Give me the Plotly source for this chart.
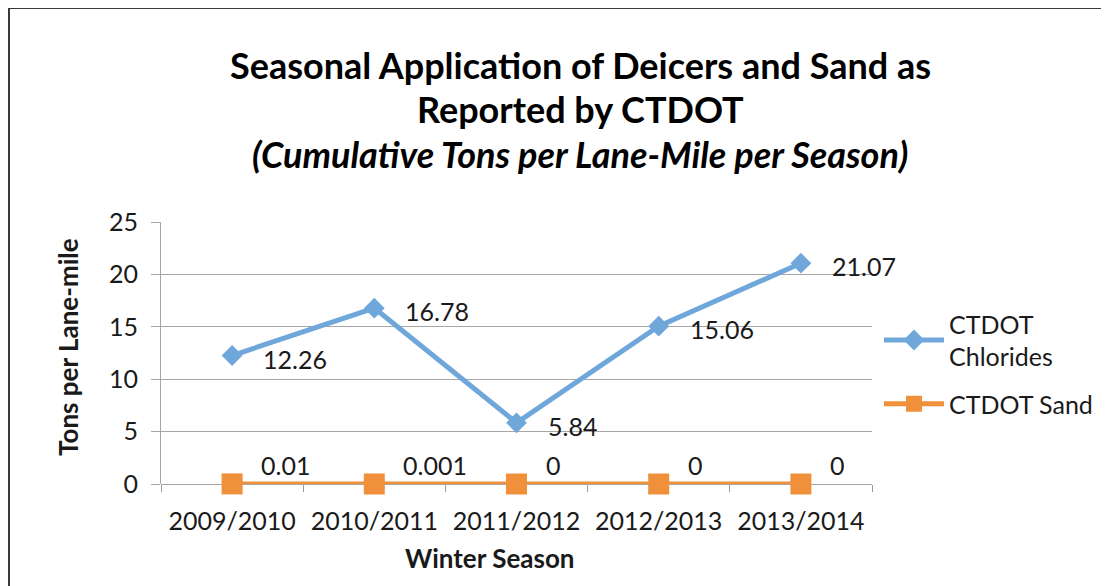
import plotly.graph_objects as go

seasons = ["2009/2010", "2010/2011", "2011/2012", "2012/2013", "2013/2014"]
chlorides = [12.26, 16.78, 5.84, 15.06, 21.07]
sand = [0.01, 0.001, 0, 0, 0]
chloride_labels = ["12.26", "16.78", "5.84", "15.06", "21.07"]
sand_labels = ["0.01", "0.001", "0", "0", "0"]
yticks = [0, 5, 10, 15, 20, 25]
title_lines = ["<b>Seasonal Application of Deicers and Sand as</b>",
               "<b>Reported by CTDOT</b>",
               "<b><i>(Cumulative Tons per Lane-Mile per Season)</i></b>"]

BLUE = "#70A7DB"
ORANGE = "#F0903B"
FONT = "Lato"
TXT = "#1a1a1a"

OFF = 8  # page body offset
W, H = 1109, 586
L, T = 161 - OFF, 222 - OFF
pw, ph = 872 - 161, 484 - 222
R = W - L - pw
B = H - T - ph

def px_x(p):
    return (p - OFF - L) / pw

def px_y(p):
    return (T + ph - (p - OFF)) / ph

fig = go.Figure()
fig.add_trace(go.Scatter(
    x=seasons, y=chlorides, name="CTDOT<br>Chlorides", mode="lines+markers",
    legendgroup="chlorides",
    line=dict(color=BLUE, width=5), cliponaxis=False,
    marker=dict(symbol="diamond", size=16, color=BLUE),
))
fig.add_trace(go.Scatter(
    x=seasons, y=sand, name="CTDOT Sand", mode="lines+markers",
    legendgroup="sand",
    line=dict(color=ORANGE, width=5), cliponaxis=False,
    marker=dict(symbol="square", size=21, color=ORANGE),
))

annotations = []
for s, v, t in zip(seasons, chlorides, chloride_labels):
    annotations.append(dict(x=s, y=v, text=t, showarrow=False, xanchor="left",
                            yanchor="middle", xshift=29, yshift=-3,
                            font=dict(family=FONT, size=25, color=TXT)))
for s, v, t in zip(seasons, sand, sand_labels):
    annotations.append(dict(x=s, y=v, text=t, showarrow=False, xanchor="left",
                            yanchor="middle", xshift=27, yshift=19,
                            font=dict(family=FONT, size=25, color=TXT)))
for i, (line, base) in enumerate(zip(title_lines, [77, 121, 166])):
    annotations.append(dict(x=px_x(580), y=px_y(base - 12), xref="paper", yref="paper",
                            text=line, showarrow=False, xanchor="center",
                            yanchor="middle",
                            font=dict(family=FONT, size=36, color="black")))
annotations.append(dict(x=px_x(490), y=px_y(558), xref="paper", yref="paper",
                        text="<b>Winter Season</b>", showarrow=False,
                        xanchor="center", yanchor="middle",
                        font=dict(family=FONT, size=26, color=TXT)))
annotations.append(dict(x=px_x(68), y=px_y(347), xref="paper", yref="paper",
                        text="<b>Tons per Lane-mile</b>", showarrow=False,
                        textangle=-90, xanchor="center", yanchor="middle",
                        font=dict(family=FONT, size=26, color=TXT)))

fig.update_layout(
    width=W, height=H,
    margin=dict(l=L, r=R, t=T, b=B),
    paper_bgcolor="white", plot_bgcolor="white",
    font=dict(family=FONT, size=25, color=TXT),
    showlegend=True,
    xaxis=dict(
        type="category", categoryorder="array", categoryarray=seasons,
        range=[-0.5, 4.5], showgrid=False, showline=False, zeroline=False,
        ticks="outside", tickson="boundaries", ticklen=7, tickcolor="#999999",
        ticklabelstandoff=20,
        tickfont=dict(family=FONT, size=25, color=TXT),
    ),
    yaxis=dict(
        range=[0, 25], tickvals=yticks, showgrid=True, gridcolor="#A6A6A6",
        gridwidth=1, zeroline=True, zerolinecolor="#A6A6A6", zerolinewidth=1,
        showline=True, linecolor="#A6A6A6", linewidth=1,
        ticks="outside", ticklen=9, tickcolor="#A6A6A6",
        ticklabelstandoff=8,
        tickfont=dict(family=FONT, size=25, color=TXT),
    ),
    legend=dict(x=px_x(879), y=px_y(301), xanchor="left", yanchor="top",
                font=dict(family=FONT, size=25, color=TXT),
                bgcolor="rgba(0,0,0,0)", itemwidth=60, tracegroupgap=12),
    annotations=annotations,
    shapes=[dict(type="rect", xref="paper", yref="paper",
                 x0=px_x(9), x1=px_x(1140), y0=px_y(8), y1=px_y(620),
                 line=dict(color="#3a3a3a", width=2), fillcolor="rgba(0,0,0,0)",
                 layer="below")],
)

fig.write_html("out.html")
